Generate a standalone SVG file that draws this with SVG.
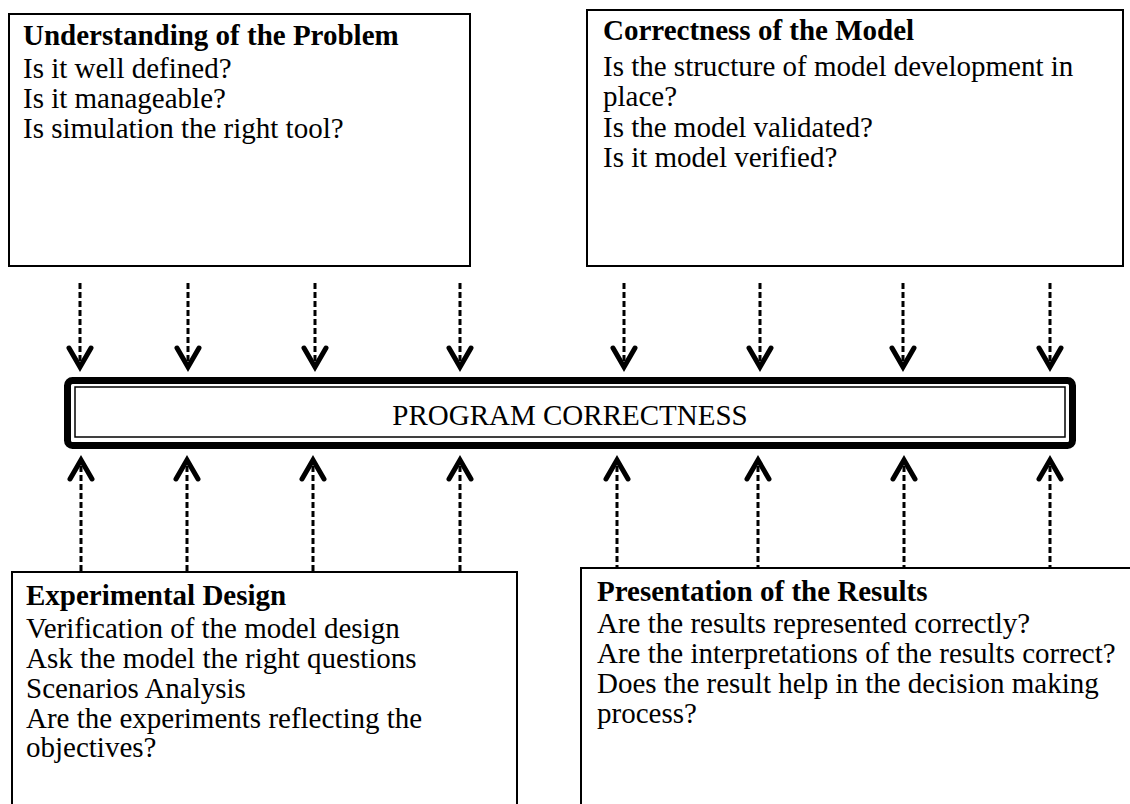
<svg xmlns="http://www.w3.org/2000/svg" width="1130" height="804" viewBox="0 0 1130 804">
<style>
  .box { fill: #fff; stroke: #000; stroke-width: 2; }
  .t { font-family: "Liberation Serif", "Times New Roman", serif; font-size: 29px; fill: #000; }
  .b { font-weight: bold; }
  .conn { stroke: #000; stroke-width: 3; stroke-dasharray: 6 3; fill: none; }
  .head { fill: none; stroke: #000; stroke-width: 5; stroke-linecap: round; stroke-linejoin: miter; }
</style>
<rect width="1130" height="804" fill="#fff"/>
<g id="understanding">
  <rect class="box" x="9" y="14" width="461" height="252"/>
  <text class="t b" x="23" y="45">Understanding of the Problem</text>
  <text class="t" x="23" y="78">Is it well defined?</text>
  <text class="t" x="23" y="108">Is it manageable?</text>
  <text class="t" x="23" y="138">Is simulation the right tool?</text>
</g>
<g id="correctness-model">
  <rect class="box" x="587" y="10" width="536" height="256"/>
  <text class="t b" x="603" y="40">Correctness of the Model</text>
  <text class="t" x="603" y="76">Is the structure of model development in</text>
  <text class="t" x="603" y="106">place?</text>
  <text class="t" x="603" y="137">Is the model validated?</text>
  <text class="t" x="603" y="167">Is it model verified?</text>
</g>
<g id="program-correctness">
  <rect x="67.5" y="380.5" width="1005" height="65" rx="5" fill="#fff" stroke="#000" stroke-width="7"/>
  <rect x="75" y="387" width="990" height="50" fill="none" stroke="#000" stroke-width="1.5"/>
  <text class="t" x="570" y="425" text-anchor="middle">PROGRAM CORRECTNESS</text>
</g>
<g id="experimental-design">
  <rect class="box" x="12" y="572" width="505" height="250"/>
  <text class="t b" x="26" y="605">Experimental Design</text>
  <text class="t" x="26" y="638">Verification of the model design</text>
  <text class="t" x="26" y="668">Ask the model the right questions</text>
  <text class="t" x="26" y="698">Scenarios Analysis</text>
  <text class="t" x="26" y="728">Are the experiments reflecting the</text>
  <text class="t" x="26" y="757">objectives?</text>
</g>
<g id="presentation">
  <rect class="box" x="581" y="568" width="560" height="250"/>
  <text class="t b" x="597" y="601">Presentation of the Results</text>
  <text class="t" x="597" y="633">Are the results represented correctly?</text>
  <text class="t" x="597" y="663">Are the interpretations of the results correct?</text>
  <text class="t" x="597" y="693">Does the result help in the decision making</text>
  <text class="t" x="597" y="723">process?</text>
</g>
<g id="connectors">
  <g class="conn">
    <line x1="80" y1="283" x2="80" y2="362"/>
    <line x1="188" y1="283" x2="188" y2="362"/>
    <line x1="315" y1="283" x2="315" y2="362"/>
    <line x1="460" y1="283" x2="460" y2="362"/>
    <line x1="624" y1="283" x2="624" y2="362"/>
    <line x1="760" y1="283" x2="760" y2="362"/>
    <line x1="903" y1="283" x2="903" y2="362"/>
    <line x1="1050" y1="283" x2="1050" y2="362"/>
    <line x1="81" y1="466" x2="81" y2="572"/>
    <line x1="187" y1="466" x2="187" y2="572"/>
    <line x1="313" y1="466" x2="313" y2="572"/>
    <line x1="460" y1="466" x2="460" y2="572"/>
    <line x1="617" y1="466" x2="617" y2="568"/>
    <line x1="758" y1="466" x2="758" y2="568"/>
    <line x1="904" y1="466" x2="904" y2="568"/>
    <line x1="1050" y1="466" x2="1050" y2="568"/>
  </g>
  <g class="head">
    <path d="M69 348 L80 367 L91 348"/>
    <path d="M177 348 L188 367 L199 348"/>
    <path d="M304 348 L315 367 L326 348"/>
    <path d="M449 348 L460 367 L471 348"/>
    <path d="M613 348 L624 367 L635 348"/>
    <path d="M749 348 L760 367 L771 348"/>
    <path d="M892 348 L903 367 L914 348"/>
    <path d="M1039 348 L1050 367 L1061 348"/>
    <path d="M70 479 L81 460 L92 479"/>
    <path d="M176 479 L187 460 L198 479"/>
    <path d="M302 479 L313 460 L324 479"/>
    <path d="M449 479 L460 460 L471 479"/>
    <path d="M606 479 L617 460 L628 479"/>
    <path d="M747 479 L758 460 L769 479"/>
    <path d="M893 479 L904 460 L915 479"/>
    <path d="M1039 479 L1050 460 L1061 479"/>
  </g>
</g>
</svg>
